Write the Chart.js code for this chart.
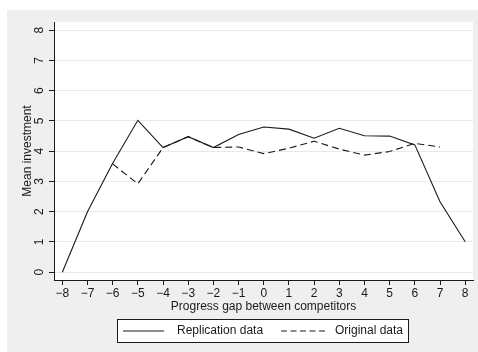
<!DOCTYPE html>
<html>
<head>
<meta charset="utf-8">
<script src="https://cdn.jsdelivr.net/npm/chart.js@4"></script>
<style>
  html, body { margin: 0; padding: 0; background: #ffffff; }
  #wrap { position: absolute; left: 7px; top: 10px; width: 471px; height: 342px; background: #efefef; }
  canvas { display: block; }
</style>
</head>
<body>
<div id="wrap"><canvas id="chart" width="471" height="342"></canvas></div>
<script>
const gaps = [-8, -7, -6, -5, -4, -3, -2, -1, 0, 1, 2, 3, 4, 5, 6, 7, 8];
const replication = [0, 2.0, 3.6, 5.02, 4.12, 4.48, 4.12, 4.55, 4.8, 4.73, 4.43, 4.76, 4.51, 4.5, 4.21, 2.33, 1.01];
const original = [null, null, 3.58, 2.92, 4.12, 4.48, 4.12, 4.14, 3.92, 4.1, 4.33, 4.07, 3.87, 3.99, 4.26, 4.14, null];
const yTicks = [0, 1, 2, 3, 4, 5, 6, 7, 8];
const legendLabels = ["Replication data", "Original data"];

const FONT = "'Liberation Sans', Arial, sans-serif";
const INK = "#1a1a1a";

const toPoints = arr => gaps.map((g, i) => ({ x: g, y: arr[i] }));
const fmt = v => v < 0 ? "\u2212" + Math.abs(v) : String(v);

const stataBits = {
  id: "stataBits",
  beforeDraw(chart) {
    const { ctx, chartArea: a } = chart;
    ctx.save();
    ctx.fillStyle = "#ffffff";
    ctx.fillRect(a.left, a.top, a.right - a.left, a.bottom - a.top);
    ctx.restore();
  },
  afterDraw(chart) {
    const { ctx } = chart;
    const ys = chart.scales.y;
    ctx.save();
    ctx.fillStyle = INK;
    ctx.font = "12px " + FONT;
    ctx.textAlign = "center";
    ctx.textBaseline = "middle";
    yTicks.forEach(v => {
      ctx.save();
      ctx.translate(33, ys.getPixelForValue(v));
      ctx.rotate(-Math.PI / 2);
      ctx.fillText(fmt(v), 0, 0);
      ctx.restore();
    });

    // legend box
    const bx = 110.5, by = 309.5, bw = 291, bh = 23;
    ctx.fillStyle = "#ffffff";
    ctx.fillRect(bx, by, bw, bh);
    ctx.strokeStyle = INK;
    ctx.lineWidth = 1;
    ctx.strokeRect(bx, by, bw, bh);
    const ly = by + bh / 2;
    ctx.beginPath();
    ctx.moveTo(116, ly);
    ctx.lineTo(157, ly);
    ctx.stroke();
    ctx.setLineDash([6, 3.5]);
    ctx.beginPath();
    ctx.moveTo(274, ly);
    ctx.lineTo(321, ly);
    ctx.stroke();
    ctx.setLineDash([]);
    ctx.fillStyle = INK;
    ctx.textAlign = "left";
    ctx.fillText(legendLabels[0], 170, ly);
    ctx.fillText(legendLabels[1], 328, ly);
    ctx.restore();
  }
};

new Chart(document.getElementById("chart"), {
  type: "line",
  data: {
    datasets: [{
      label: legendLabels[0],
      data: toPoints(replication),
      borderColor: INK,
      borderWidth: 1.1,
      pointRadius: 0,
      tension: 0,
      fill: false
    }, {
      label: legendLabels[1],
      data: toPoints(original),
      borderColor: INK,
      borderWidth: 1.1,
      borderDash: [7, 4],
      pointRadius: 0,
      tension: 0,
      fill: false,
      spanGaps: false
    }]
  },
  options: {
    responsive: false,
    animation: false,
    events: [],
    layout: { padding: { left: 0, top: 12, right: 5, bottom: 0 } },
    plugins: {
      legend: { display: false },
      tooltip: { enabled: false }
    },
    scales: {
      x: {
        type: "linear",
        min: -8.33,
        max: 8.31,
        afterFit: s => { s.height = 72; },
        afterBuildTicks: s => { s.ticks = gaps.map(v => ({ value: v })); },
        border: { color: INK, width: 1 },
        grid: { drawOnChartArea: false, tickLength: 5, tickColor: INK, tickWidth: 1 },
        ticks: {
          color: INK,
          font: { family: FONT, size: 12 },
          padding: 1,
          maxRotation: 0,
          autoSkip: false,
          callback: v => fmt(v)
        },
        title: {
          display: true,
          text: "Progress gap between competitors",
          color: INK,
          font: { family: FONT, size: 12 },
          padding: { top: 0, bottom: 38 }
        }
      },
      y: {
        min: -0.256,
        max: 8.27,
        afterFit: s => { s.width = 47; },
        afterBuildTicks: s => { s.ticks = yTicks.map(v => ({ value: v })); },
        border: { color: INK, width: 1 },
        grid: { color: "#e8e8e8", lineWidth: 1, tickLength: 5, tickColor: INK, tickWidth: 1 },
        ticks: {
          color: "rgba(0,0,0,0)",
          font: { family: FONT, size: 12 },
          callback: v => fmt(v)
        },
        title: {
          display: true,
          text: "Mean investment",
          color: INK,
          font: { family: FONT, size: 12 },
          padding: { top: 13, bottom: 0 }
        }
      }
    }
  },
  plugins: [stataBits]
});
</script>
</body>
</html>
